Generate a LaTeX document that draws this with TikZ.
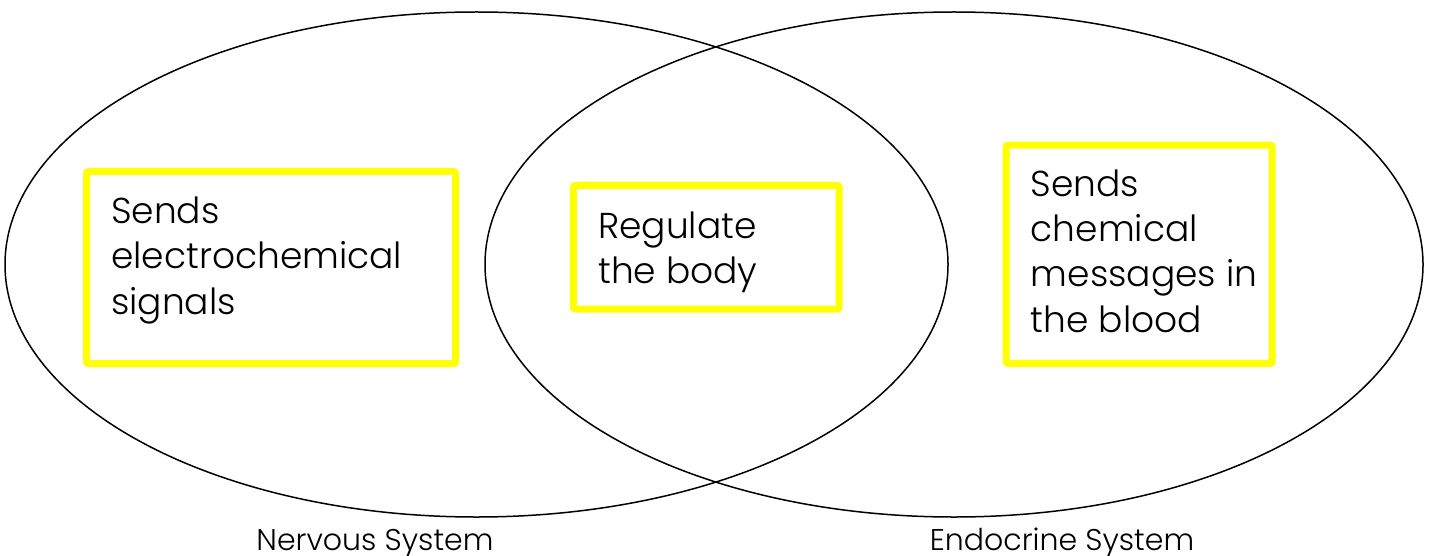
\documentclass[tikz,border=0pt]{standalone}
\usepackage{fontspec}
\setmainfont{Poppins}[UprightFont=* Light]
\usetikzlibrary{shapes.geometric}
\definecolor{boxyellow}{HTML}{FFFF00}
\tikzset{
  venn/.style={ellipse, draw=black, line width=1.5pt, inner sep=0pt},
  ybox/.style={rectangle, draw=boxyellow, line width=7pt, rounded corners=2pt, inner sep=0pt},
  line/.style={anchor=base west, inner sep=0pt, font=\fontsize{36}{45}\selectfont},
  label/.style={anchor=base, inner sep=0pt, font=\fontsize{30}{36}\selectfont},
}
\begin{document}
\begin{tikzpicture}[x=1pt,y=-1pt]
\useasboundingbox (0,0) rectangle (1431,556);
\node[venn, minimum width=943pt, minimum height=505pt] (ns) at (476.5,264.5) {};
\node[venn, minimum width=938pt, minimum height=505pt] (es) at (954,264.5) {};
% boxes
\node[ybox, minimum width=369pt, minimum height=192pt] (b1) at (271,267.5) {};
\node[ybox, minimum width=265.7pt, minimum height=123.7pt] (b2) at (706.3,247.3) {};
\node[ybox, minimum width=266pt, minimum height=218.3pt] (b3) at (1139.2,254.3) {};
% texts
\node[line] (t1a) at (111,223) {Sends};
\node[line] (t1b) at (111,268.5) {electrochemical};
\node[line] (t1c) at (111,314) {signals};
\node[line] (t2a) at (598,238) {Regulate};
\node[line] (t2b) at (598,283) {the body};
\node[line] (t3a) at (1030.7,196.7) {Sends};
\node[line] (t3b) at (1030.7,241.7) {chemical};
\node[line] (t3c) at (1030.7,286.7) {messages in};
\node[line] (t3d) at (1030.7,332) {the blood};
% labels
\node[label] (l1) at (375,550.5) {Nervous System};
\node[label] (l2) at (1062,550.5) {Endocrine System};
\end{tikzpicture}
\end{document}
